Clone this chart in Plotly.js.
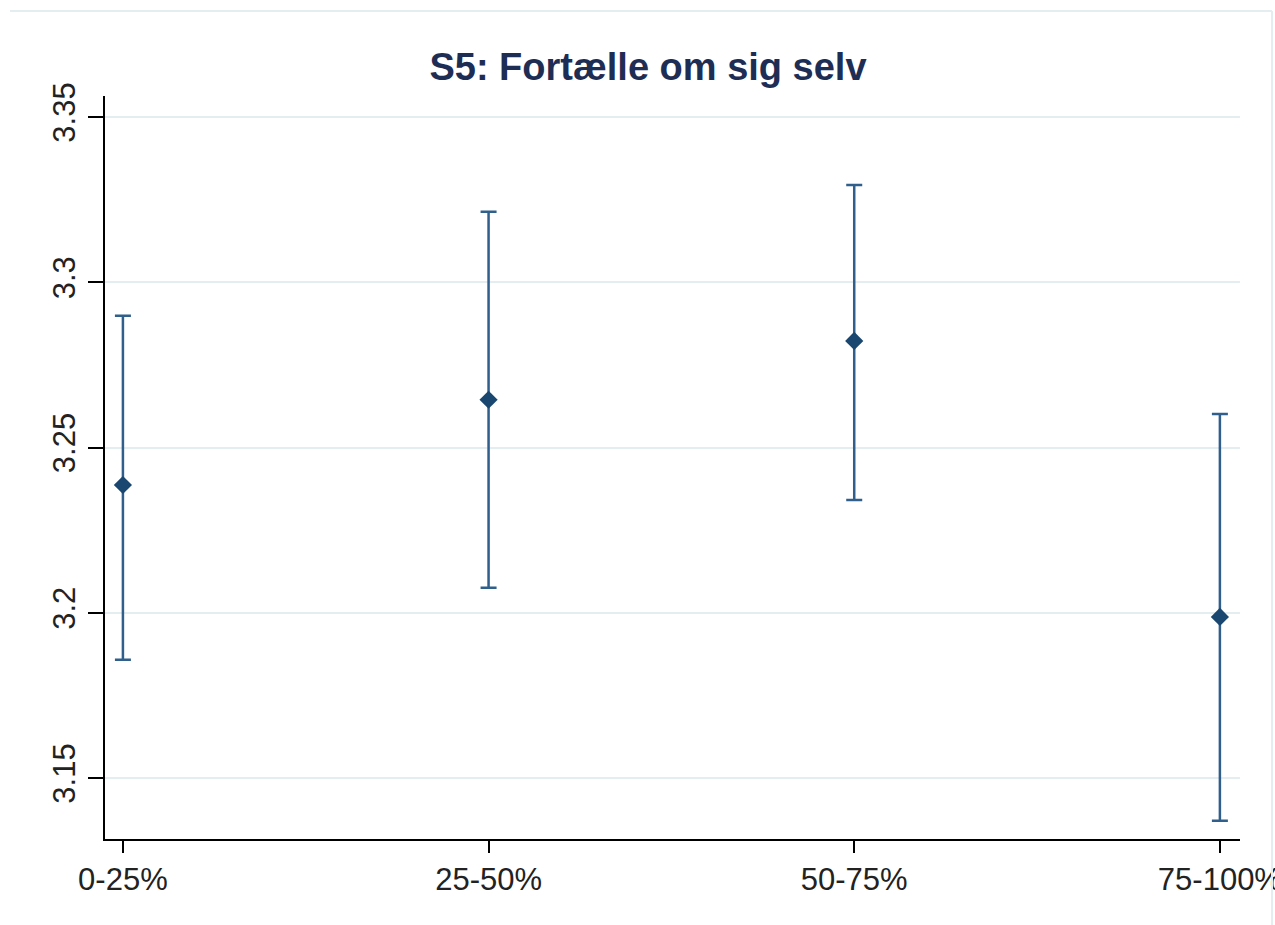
<!DOCTYPE html>
<html>
<head>
<meta charset="utf-8">
<script src="https://cdn.plot.ly/plotly-3.0.1.min.js"></script>
<style>html,body{margin:0;padding:0;background:#fff;}#chart{width:1275px;height:925px;}</style>
</head>
<body>
<div id="chart"></div>
<script>
const categories = ["0-25%", "25-50%", "50-75%", "75-100%"];
const means = [3.2387, 3.2645, 3.2823, 3.1988];
const upper = [3.2899, 3.3214, 3.3295, 3.2602];
const lower = [3.1858, 3.2076, 3.2342, 3.1371];
const yTickVals = [3.15, 3.2, 3.25, 3.3, 3.35];
const yTickText = ["3.15", "3.2", "3.25", "3.3", "3.35"];
const titleText = "S5: Fortælle om sig selv";

const errPlus = means.map((m, i) => upper[i] - m);
const errMinus = means.map((m, i) => m - lower[i]);

const trace = {
  type: "scatter",
  mode: "markers",
  x: categories,
  y: means,
  marker: {symbol: "diamond", size: 14, color: "#1a476f"},
  error_y: {
    type: "data", symmetric: false,
    array: errPlus, arrayminus: errMinus,
    color: "#2f5f8a", thickness: 2.5, width: 8
  },
  hoverinfo: "x+y",
  showlegend: false
};

const layout = {
  width: 1275, height: 925,
  paper_bgcolor: "#ffffff", plot_bgcolor: "#ffffff",
  margin: {l: 105, r: 35, t: 96, b: 86, pad: 0},
  font: {family: "Liberation Sans, Arial, sans-serif", color: "#222222"},
  title: {
    text: "<b>" + titleText + "</b>",
    font: {size: 38, color: "#1e2d54", family: "Liberation Sans, Arial, sans-serif"},
    x: 648 / 1275, xref: "container", xanchor: "center",
    y: 1 - 67 / 925, yref: "container", yanchor: "middle"
  },
  xaxis: {
    type: "category",
    range: [-0.049, 3.055],
    showgrid: false, zeroline: false,
    showline: true, linecolor: "#000000", linewidth: 2,
    ticks: "outside", ticklen: 12, tickwidth: 2, tickcolor: "#000000",
    tickfont: {size: 31, color: "#222222"},
    ticklabelstandoff: 0
  },
  yaxis: {
    range: [3.1316, 3.3564],
    tickvals: yTickVals, ticktext: yTickText,
    tickangle: -90,
    showgrid: true, gridcolor: "#e4eef0", gridwidth: 2,
    zeroline: false,
    showline: true, linecolor: "#000000", linewidth: 2,
    ticks: "outside", ticklen: 15, tickwidth: 2, tickcolor: "#000000",
    tickfont: {size: 31, color: "#222222"},
    ticklabelstandoff: 1
  },
  shapes: [
    {type: "line", xref: "paper", yref: "paper",
     x0: (10 - 105) / 1135, x1: (1272 - 105) / 1135,
     y0: (839 - 11) / 743, y1: (839 - 11) / 743,
     line: {color: "#e4eef0", width: 2}},
    {type: "line", xref: "paper", yref: "paper",
     x0: (1272 - 105) / 1135, x1: (1272 - 105) / 1135,
     y0: (839 - 11) / 743, y1: (839 - 925) / 743,
     line: {color: "#e4eef0", width: 2}}
  ]
};

Plotly.newPlot("chart", [trace], layout, {displayModeBar: false, staticPlot: true});
</script>
</body>
</html>
